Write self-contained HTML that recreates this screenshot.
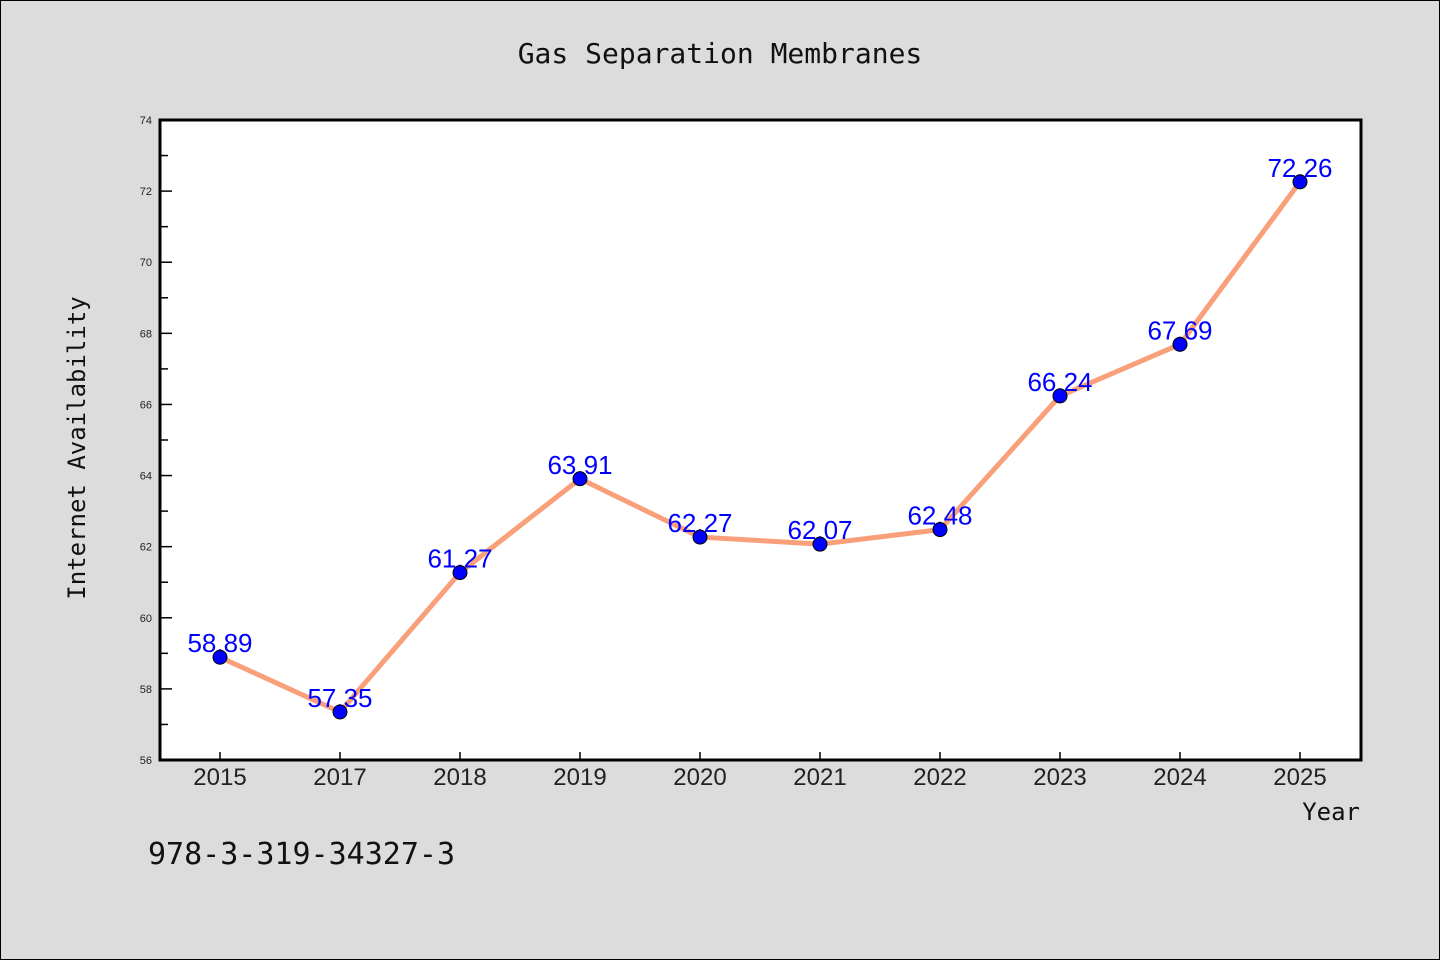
<!DOCTYPE html>
<html><head><meta charset="utf-8"><style>
body{margin:0;background:#dcdcdc;}
svg{display:block;font-family:"Liberation Sans","DejaVu Sans",sans-serif;}
</style></head><body>
<svg id="chart" width="1440" height="960">
<rect x="0.5" y="0.5" width="1439" height="959" fill="#dcdcdc" stroke="#000"/>
<text x="720" y="63" text-anchor="middle" font-size="28" font-family="'DejaVu Sans Mono','Liberation Mono',monospace" fill="#111">Gas Separation Membranes</text>
<rect x="160" y="120" width="1201" height="640" fill="#fff"/>
<g id="ticks"></g>
<g id="series"></g>
<rect x="160" y="120" width="1201" height="640" fill="none" stroke="#000" stroke-width="3"/>
<text transform="translate(85,448) rotate(-90)" text-anchor="middle" font-size="24" font-family="'DejaVu Sans Mono','Liberation Mono',monospace" fill="#111">Internet Availability</text>
<text x="1360" y="820" text-anchor="end" font-size="24" font-family="'DejaVu Sans Mono','Liberation Mono',monospace" fill="#111">Year</text>
<text x="148" y="864" font-size="30" font-family="'DejaVu Sans Mono','Liberation Mono',monospace" fill="#111">978-3-319-34327-3</text>
</svg>
<script>
const categories=["2015","2017","2018","2019","2020","2021","2022","2023","2024","2025"];
const values=[58.89,57.35,61.27,63.91,62.27,62.07,62.48,66.24,67.69,72.26];
const yTicks=[56,58,60,62,64,66,68,70,72,74];
const ns="http://www.w3.org/2000/svg";
const X0=160,X1=1361,Y0=760,Y1=120,YMIN=56,YMAX=74;
const xs=i=>220+i*(1300-220)/(categories.length-1);
const ys=v=>Y0-(v-YMIN)/(YMAX-YMIN)*(Y0-Y1);
function mk(tag,attrs,parent){const e=document.createElementNS(ns,tag);for(const k in attrs)e.setAttribute(k,attrs[k]);parent.appendChild(e);return e;}
const tg=document.getElementById('ticks'),sg=document.getElementById('series');
yTicks.forEach((t,i)=>{
  const y=ys(t);
  const l=mk('line',{x1:X0,x2:X0+12,y1:y,y2:y,stroke:'#000','stroke-width':1.5},tg);
  
  
  const tx=mk('text',{x:X0-8,y:y+4,'text-anchor':'end','font-size':11,fill:'#222'},tg);
  tx.textContent=t;
  
  
  if(i<yTicks.length-1){
    const m=ys(t+1);
    const ml=mk('line',{x1:X0,x2:X0+8,y1:m,y2:m,stroke:'#000','stroke-width':1.5},tg);
    
    
  }
});
categories.forEach((c,i)=>{
  const x=xs(i);
  const l=mk('line',{x1:x,x2:x,y1:Y0,y2:Y0-8,stroke:'#000','stroke-width':1.5},tg);
  
  
  const tx=mk('text',{x:x,y:785,'text-anchor':'middle','font-size':24,fill:'#222'},tg);
  tx.textContent=c;
  
  
});
const line=mk('polyline',{points:values.map((v,i)=>xs(i)+','+ys(v)).join(' '),fill:'none',stroke:'#f9a07a','stroke-width':5,'stroke-linejoin':'round'},sg);


values.forEach((v,i)=>{
  const t=mk('text',{x:xs(i),y:ys(v)-5,'text-anchor':'middle','font-size':26,fill:'#0000ff'},sg);
  t.textContent=v.toFixed(2);
  
  
});
values.forEach((v,i)=>{
  const c=mk('circle',{cx:xs(i),cy:ys(v),r:7,fill:'#0000ff',stroke:'#000','stroke-width':1},sg);
  
  
});
</script>
</body></html>
